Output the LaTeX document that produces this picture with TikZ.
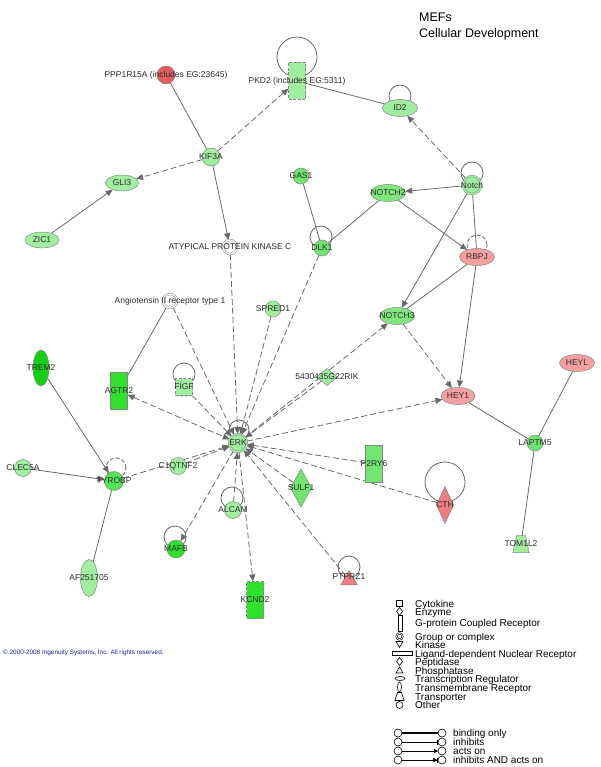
\documentclass[tikz,border=0pt]{standalone}
\usepackage{fontspec}
\setmainfont{Liberation Sans}
\usetikzlibrary{shapes.geometric,arrows.meta,calc,backgrounds}
\definecolor{lg}{RGB}{160,238,160}
\definecolor{mg}{RGB}{112,230,112}
\definecolor{bg}{RGB}{45,225,45}
\definecolor{tg}{RGB}{20,208,20}
\definecolor{rd}{RGB}{232,92,92}
\definecolor{lr}{RGB}{244,160,160}
\definecolor{mr}{RGB}{238,125,125}
\definecolor{ncol}{RGB}{135,135,135}
\definecolor{ecol}{RGB}{105,105,105}
\definecolor{tcol}{RGB}{45,45,45}
\definecolor{cblue}{RGB}{30,30,150}
\begin{document}
\begin{tikzpicture}[x=1pt,y=-1pt,
  gnode/.style={draw=ncol, line width=0.5pt, inner sep=0pt, outer sep=0pt},
  circ/.style={gnode, circle, minimum size=17pt, fill=lg},
  grp/.style={gnode, circle, minimum size=18pt, fill=lg, double=lg, double distance=1.2pt},
  grpw/.style={gnode, circle, minimum size=14pt, fill=white, double=white, double distance=1.2pt},
  ell/.style={gnode, ellipse, minimum width=35pt, minimum height=17pt, fill=lg},
  vell/.style={gnode, ellipse, minimum width=17pt, minimum height=37pt, fill=lg},
  rect/.style={gnode, rectangle, minimum width=17pt, minimum height=37pt, fill=lg},
  dia/.style={gnode, diamond, minimum width=21pt, minimum height=38pt, fill=lg},
  tri/.style={gnode, regular polygon, regular polygon sides=3, minimum size=19pt},
  trap/.style={gnode, trapezium, trapezium left angle=78, trapezium right angle=78, inner xsep=4.5pt, inner ysep=8.5pt},
  dsh/.style={dash pattern=on 3pt off 1.5pt},
  lbl/.style={font=\fontsize{8.5}{9}\selectfont, text=tcol, inner sep=0pt},
  sol/.style={draw=ecol, line width=0.8pt},
  sar/.style={sol, -{Triangle[length=7pt,width=6pt]}},
  dln/.style={sol, dash pattern=on 6pt off 3pt},
  dar/.style={dln, -{Triangle[length=7pt,width=6pt]}},
  dbi/.style={dln, {Triangle[length=7pt,width=6pt]}-{Triangle[length=7pt,width=6pt]}},
  lp/.style={draw=ecol, line width=0.8pt},
  lgt/.style={font=\fontsize{10}{10}\selectfont, anchor=base west, inner sep=0pt},
  lsym/.style={draw=black, line width=0.6pt, fill=white, inner sep=0pt, outer sep=0pt},
  lc/.style={draw=black, line width=0.6pt, fill=white, circle, minimum size=8pt, inner sep=0pt, outer sep=0pt},
  ll/.style={draw=black, line width=0.6pt}
]
\useasboundingbox (0,0) rectangle (600,767);

% ---------- title ----------
\node[font=\fontsize{12.5}{12.5}\selectfont, anchor=base west, inner sep=0pt] (t1) at (419,21.5) {MEFs};
\node[font=\fontsize{12.5}{12.5}\selectfont, anchor=base west, inner sep=0pt] (t2) at (419,37.5) {Cellular Development};

% ---------- nodes ----------
\node[circ, fill=rd, minimum size=18pt] (PPP) at (166,75) {};
\node[rect, dashed, dsh] (PKD2) at (297,81) {};
\node[ell] (ID2) at (400,108) {};
\node[circ, minimum size=18pt] (KIF3A) at (211,157) {};
\node[ell, minimum width=33pt, minimum height=16pt] (GLI3) at (122,183) {};
\node[ell, minimum width=34pt, minimum height=16pt] (ZIC1) at (42,240) {};
\node[circ, fill=mg, minimum size=16pt] (GAS1) at (301,176) {};
\node[ell, fill=mg!70!lg] (NOTCH2) at (388,193) {};
\node[grp] (Notch) at (472,185) {};
\node[circ, fill=mg, minimum size=16pt] (DLK1) at (322,248) {};
\node[grpw] (APKC) at (230,247) {};
\node[ell, fill=lr] (RBPJ) at (477,257) {};
\node[grpw] (AT1) at (170,301) {};
\node[circ, minimum size=16pt] (SPRED1) at (273,309) {};
\node[ell, fill=mg!70!lg] (NOTCH3) at (397,316) {};
\node[vell, fill=tg, minimum width=16pt, minimum height=36pt] (TREM2) at (41,368) {};
\node[rect, fill=bg] (AGTR2) at (119,391) {};
\node[rect, dashed, dsh, minimum height=17pt] (FIGF) at (184,387) {};
\node[dia, minimum width=21pt, minimum height=17pt] (RIK) at (327,377) {};
\node[ell, fill=lr, minimum width=34pt] (HEY1) at (458,396) {};
\node[ell, fill=lr] (HEYL) at (577,363) {};
\node[grp] (ERK) at (238,443) {};
\node[circ, fill=mg, minimum size=16pt] (LAPTM5) at (535,443) {};
\node[circ] (CLEC5A) at (23,468) {};
\node[circ, fill=mg!60!bg, minimum size=19pt] (TYROBP) at (114,481) {};
\node[circ] (C1QTNF2) at (178,466) {};
\node[rect, fill=mg] (P2RY6) at (374,464) {};
\node[dia, fill=mg] (SULF1) at (301,488) {};
\node[dia, fill=mr, minimum width=17pt, minimum height=37pt] (CTH) at (445,505) {};
\node[circ] (ALCAM) at (233,510) {};
\node[circ, fill=bg, minimum size=18pt] (MAFB) at (176,549) {};
\node[vell] (AF) at (89,578) {};
\node[rect, dashed, dsh, fill=bg] (KCND2) at (255,600) {};
\node[tri, fill=mr] (PTPRZ1) at (349,580) {};
\node[trap, fill=lg] (TOM1L2) at (521,544) {};

% ---------- labels ----------
\node[lbl] (PPPl) at (166,75) {PPP1R15A (includes EG:23645)};
\node[lbl] (PKD2l) at (297,81) {PKD2 (includes EG:5311)};
\node[lbl] (ID2l) at (ID2) {ID2};
\node[lbl] (KIF3Al) at (KIF3A) {KIF3A};
\node[lbl] (GLI3l) at (GLI3) {GLI3};
\node[lbl] (ZIC1l) at (ZIC1) {ZIC1};
\node[lbl] (GAS1l) at (GAS1) {GAS1};
\node[lbl] (NOTCH2l) at (NOTCH2) {NOTCH2};
\node[lbl] (Notchl) at (Notch) {Notch};
\node[lbl] (DLK1l) at (DLK1) {DLK1};
\node[lbl] (APKCl) at (APKC) {ATYPICAL PROTEIN KINASE C};
\node[lbl] (RBPJl) at (RBPJ) {RBPJ};
\node[lbl] (AT1l) at (AT1) {Angiotensin II receptor type 1};
\node[lbl] (SPRED1l) at (SPRED1) {SPRED1};
\node[lbl] (NOTCH3l) at (NOTCH3) {NOTCH3};
\node[lbl] (TREM2l) at (TREM2) {TREM2};
\node[lbl] (AGTR2l) at (AGTR2) {AGTR2};
\node[lbl] (FIGFl) at (FIGF) {FIGF};
\node[lbl] (RIKl) at (RIK) {5430435G22RIK};
\node[lbl] (HEY1l) at (HEY1) {HEY1};
\node[lbl] (HEYLl) at (HEYL) {HEYL};
\node[lbl] (ERKl) at (ERK) {ERK};
\node[lbl] (LAPTM5l) at (LAPTM5) {LAPTM5};
\node[lbl] (CLEC5Al) at (CLEC5A) {CLEC5A};
\node[lbl] (TYROBPl) at (TYROBP) {TYROBP};
\node[lbl] (C1QTNF2l) at (C1QTNF2) {C1QTNF2};
\node[lbl] (P2RY6l) at (P2RY6) {P2RY6};
\node[lbl] (SULF1l) at (SULF1) {SULF1};
\node[lbl] (CTHl) at (CTH) {CTH};
\node[lbl] (ALCAMl) at (ALCAM) {ALCAM};
\node[lbl] (MAFBl) at (MAFB) {MAFB};
\node[lbl] (AFl) at (AF) {AF251705};
\node[lbl] (KCND2l) at (KCND2) {KCND2};
\node[lbl] (PTPRZ1l) at (349,577) {PTPRZ1};
\node[lbl] (TOM1L2l) at (TOM1L2) {TOM1L2};

% ---------- edges and loops ----------
\begin{scope}[on background layer]
  % self loops
  \draw[lp] ($(PKD2)+(0,-24)$) circle (20pt);
  \draw[lp] ($(ID2)+(0,-12)$) circle (11pt);
  \draw[lp] ($(Notch)+(0,-12)$) circle (11pt);
  \draw[lp] ($(DLK1)+(-1,-11)$) circle (11pt);
  \draw[lp, dash pattern=on 4pt off 2pt] ($(RBPJ)+(0,-12)$) circle (10pt);
  \draw[lp] ($(FIGF)+(0,-13)$) circle (11pt);
  \draw[lp] ($(ERK)+(1,-13)$) circle (10pt);
  \draw[lp, dash pattern=on 4pt off 2pt] ($(TYROBP)+(2,-13)$) circle (10pt);
  \draw[lp] ($(ALCAM)+(-1,-12)$) circle (11pt);
  \draw[lp] ($(MAFB)+(-1,-12)$) circle (11pt);
  \draw[lp] ($(CTH)+(0,-23)$) circle (20pt);
  \draw[lp] ($(PTPRZ1)+(0,-13)$) circle (11pt);

  % upper network
  \draw[sol] (PPP) -- (KIF3A);
  \draw[dar] (KIF3A) -- (GLI3);
  \draw[dar] (KIF3A) -- (PKD2);
  \draw[sar] (KIF3A) -- (APKC);
  \draw[sar] (ZIC1) -- (GLI3);
  \draw[sol] (PKD2) -- (ID2);
  \draw[dar] (Notch) -- (ID2);
  \draw[sar] (Notch) -- (NOTCH2);
  \draw[sar] (Notch) -- (NOTCH3);
  \draw[sol] (Notch) -- (RBPJ);
  \draw[sar] (NOTCH2) -- (RBPJ);
  \draw[sol] (NOTCH2) -- (DLK1);
  \draw[sol] (GAS1) -- (DLK1);
  \draw[sol] (RBPJ) -- (NOTCH3);
  \draw[sar] (RBPJ) -- (HEY1);
  \draw[dar] (NOTCH3) -- (HEY1);
  \draw[sol] (HEY1) -- (LAPTM5);
  \draw[sol] (HEYL) -- (LAPTM5);
  \draw[sol] (LAPTM5) -- (TOM1L2);
  \draw[sol] (AT1) -- (AGTR2);
  \draw[sar] (TREM2) -- (TYROBP);
  \draw[sar] (CLEC5A) -- (TYROBP);
  \draw[sol] (TYROBP) -- (AF);

  % ERK hub
  \draw[dar] (APKC) -- (ERK);
  \draw[dar] (AT1) -- (ERK);
  \draw[dar] (SPRED1) -- (ERK);
  \draw[dar] (DLK1) -- (ERK);
  \draw[dar] (FIGF) -- (ERK);
  \draw[dar] (RIK) -- (ERK);
  \draw[dar] (C1QTNF2) -- (ERK);
  \draw[dar] (TYROBP) -- (ERK);
  \draw[dar] (ALCAM) -- (ERK);
  \draw[dar] (SULF1) -- (ERK);
  \draw[dar] (P2RY6) -- (ERK);
  \draw[dar] (CTH) -- (ERK);
  \draw[dar] (PTPRZ1) -- (ERK);
  \draw[dbi] (AGTR2) -- (ERK);
  \draw[dar] (ERK) -- (NOTCH3);
  \draw[dar] (ERK) -- (HEY1);
  \draw[dar] (ERK) -- (MAFB);
  \draw[dar] (ERK) -- (KCND2);
\end{scope}

% ---------- copyright ----------
\node[font=\fontsize{6.4}{6.4}\selectfont, text=cblue, anchor=base west, inner sep=0pt] (copy) at (3,654) {© 2000-2008 Ingenuity Systems, Inc. All rights reserved.};

% ---------- legend: node types ----------
\node[lsym, rectangle, minimum width=6pt, minimum height=6pt] (s1) at (399.5,603.5) {};
\node[lsym, diamond, minimum width=6pt, minimum height=8pt] (s2) at (399.5,611.5) {};
\node[lsym, rectangle, minimum width=4pt, minimum height=16pt] (s3) at (400,623.5) {};
\node[lsym, circle, minimum size=6pt, double=white, double distance=0.8pt] (s4) at (399.5,636.5) {};
\node[lsym, regular polygon, regular polygon sides=3, shape border rotate=180, minimum size=8pt] (s5) at (399.5,643.5) {};
\node[lsym, rectangle, minimum width=20pt, minimum height=3.5pt] (s6) at (402,653.5) {};
\node[lsym, diamond, minimum width=6pt, minimum height=8pt] (s7) at (399.5,661.5) {};
\node[lsym, regular polygon, regular polygon sides=3, minimum size=8pt] (s8) at (399.5,671) {};
\node[lsym, ellipse, minimum width=10pt, minimum height=4pt] (s9) at (400,678.5) {};
\node[lsym, ellipse, minimum width=4pt, minimum height=10pt] (s10) at (399.5,687) {};
\node[lsym, trapezium, trapezium left angle=72, trapezium right angle=72, inner xsep=2pt, inner ysep=4pt] (s11) at (399.5,696.5) {};
\node[lsym, circle, minimum size=7pt] (s12) at (399.5,705) {};

\node[lgt] (lt1) at (415,607.2) {Cytokine};
\node[lgt] (lt2) at (415,615.5) {Enzyme};
\node[lgt] (lt3) at (415,626.8) {G-protein Coupled Receptor};
\node[lgt] (lt4) at (415,640.3) {Group or complex};
\node[lgt] (lt5) at (415,648.3) {Kinase};
\node[lgt] (lt6) at (415,657.3) {Ligand-dependent Nuclear Receptor};
\node[lgt] (lt7) at (415,665.8) {Peptidase};
\node[lgt] (lt8) at (415,674.3) {Phosphatase};
\node[lgt] (lt9) at (415,682.8) {Transcription Regulator};
\node[lgt] (lt10) at (415,691.8) {Transmembrane Receptor};
\node[lgt] (lt11) at (415,700.3) {Transporter};
\node[lgt] (lt12) at (415,708.8) {Other};

% ---------- legend: edge types ----------
\node[lc] (a1) at (398,733) {};
\node[lc] (b1) at (442,733) {};
\node[lc] (a2) at (398,742) {};
\node[lc] (b2) at (442,742) {};
\node[lc] (a3) at (398,751) {};
\node[lc] (b3) at (442,751) {};
\node[lc] (a4) at (398,760) {};
\node[lc] (b4) at (442,760) {};
\draw[ll, line width=1.2pt] (a1) -- (b1);
\draw[ll, -{Bar[width=5pt]}] (a2) -- (b2);
\draw[ll, -{Triangle[length=4pt,width=4pt]}] (a3) -- (b3);
\draw[ll, -{Triangle[length=4pt,width=4pt]Bar[width=5pt]}] (a4) -- (b4);
\node[lgt] (e1) at (453,736.7) {binding only};
\node[lgt] (e2) at (453,745.7) {inhibits};
\node[lgt] (e3) at (453,754.7) {acts on};
\node[lgt] (e4) at (453,763.7) {inhibits AND acts on};
\end{tikzpicture}
\end{document}
